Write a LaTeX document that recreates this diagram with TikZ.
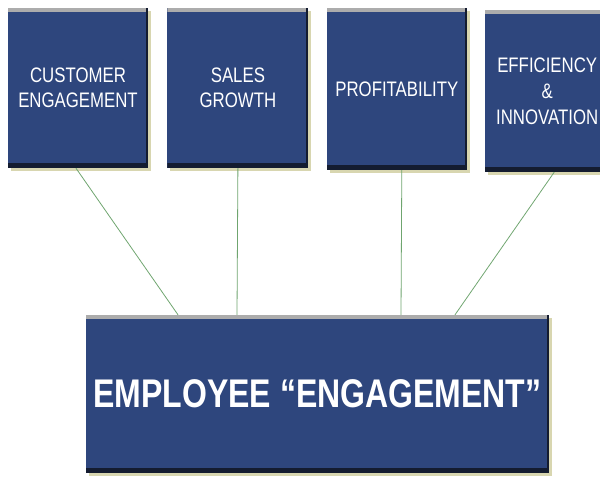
\documentclass[tikz,border=0pt]{standalone}
\usepackage{fontspec}
\setmainfont{Liberation Sans}[FakeStretch=0.8]
\usetikzlibrary{shadows}
\definecolor{boxblue}{HTML}{2E467D}
\definecolor{edgedark}{HTML}{141C30}
\definecolor{linkgreen}{HTML}{6FA56F}
\tikzset{
  goalbox/.style={rectangle, fill=boxblue, text=white, align=center, inner sep=0pt,
    font=\fontsize{21}{25}\selectfont,
    drop shadow={shadow xshift=3pt, shadow yshift=-3pt, fill=black!30!olive!30, opacity=.9},
    path picture={
      \fill[gray!65] (path picture bounding box.north west) rectangle ([yshift=-4pt]path picture bounding box.north east);
      \fill[edgedark] (path picture bounding box.south west) rectangle ([yshift=5pt]path picture bounding box.south east);
      \fill[edgedark] ([xshift=-2pt]path picture bounding box.south east) rectangle (path picture bounding box.north east);
    }},
  link/.style={draw=linkgreen, line width=0.8pt}
}
\begin{document}
\begin{tikzpicture}[x=1pt, y=-1pt]
\useasboundingbox (0,0) rectangle (600,477);
\node[goalbox, minimum width=140pt, minimum height=160pt] (cust) at (78,88) {CUSTOMER\\ENGAGEMENT};
\node[goalbox, minimum width=141pt, minimum height=160pt, anchor=west] (sales) at ([xshift=19pt]cust.east) {SALES\\GROWTH};
\node[goalbox, minimum width=140pt, minimum height=162pt, anchor=west] (profit) at ([xshift=18pt, yshift=-1pt]sales.east) {PROFITABILITY};
\node[goalbox, minimum width=124pt, minimum height=162pt, anchor=west, font=\fontsize{21}{26}\selectfont] (effic) at ([xshift=18pt, yshift=-2pt]profit.east) {EFFICIENCY\\\&\\INNOVATION};
\node[goalbox, minimum width=463pt, minimum height=158pt, font=\fontsize{40}{44}\selectfont\bfseries] (employee) at (317.5,394) {EMPLOYEE “ENGAGEMENT”};
\draw[link] ([xshift=-2pt]cust.south) -- ([xshift=-139.5pt]employee.north);
\draw[link] (sales.south) -- ([xshift=-80.5pt]employee.north);
\draw[link] ([xshift=5pt]profit.south) -- ([xshift=83.5pt]employee.north);
\draw[link] ([xshift=7pt]effic.south) -- ([xshift=137.5pt]employee.north);
\end{tikzpicture}
\end{document}
